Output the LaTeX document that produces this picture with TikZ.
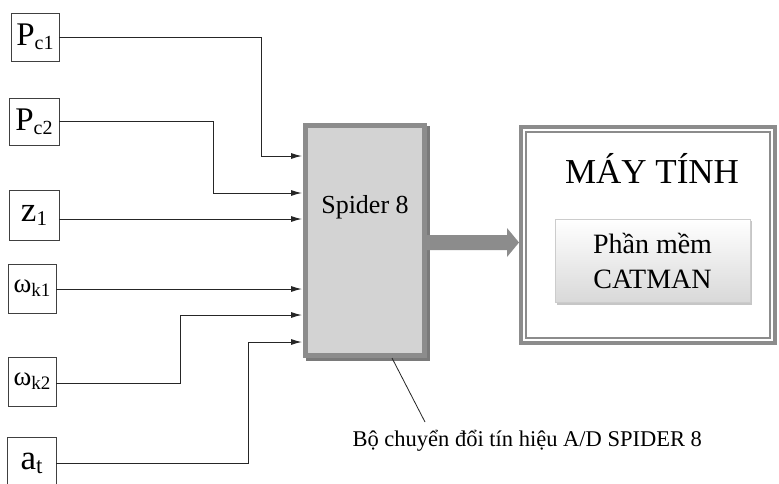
\documentclass[tikz,border=0pt]{standalone}
\usepackage{fontspec}
\setmainfont{Liberation Serif}
\usetikzlibrary{calc,arrows.meta}
\definecolor{bordergray}{HTML}{8C8C8C}
\definecolor{shadowgray}{HTML}{7A7A7A}
\definecolor{fillgray}{HTML}{D3D3D3}
\newcommand\sigtxt[4]{{\fontsize{#2}{#2}\selectfont #1}{\fontsize{#4}{#4}\selectfont\raisebox{-4pt}{#3}}}
\begin{document}
\begin{tikzpicture}[x=1pt,y=-1pt,
  inbox/.style={draw=black!75,line width=0.9pt,fill=white,inner sep=0pt},
  wire/.style={draw=black!85,line width=1pt},
  arr/.style={wire,-{Latex[length=11pt,width=6pt]}}]
\clip (0,0) rectangle (779,483);
\fill[white] (0,0) rectangle (779,483);

% input boxes
\node[inbox,minimum width=48pt,minimum height=48pt] (pc1) at (35,37) {\sigtxt{P}{33}{c1}{20}};
\node[inbox,minimum width=50pt,minimum height=47pt] (pc2) at (34,121.5) {\sigtxt{P}{33}{c2}{20}};
\node[inbox,minimum width=50pt,minimum height=50pt] (z1) at (34,215) {\sigtxt{z}{35}{1}{21}};
\node[inbox,minimum width=48pt,minimum height=49pt] (wk1) at (32,288.5) {\sigtxt{ω}{27}{k1}{19}};
\node[inbox,minimum width=48pt,minimum height=49pt] (wk2) at (32,381.5) {\sigtxt{ω}{27}{k2}{19}};
\node[inbox,minimum width=49pt,minimum height=52pt] (at) at (31.5,463) {\sigtxt{a}{35}{t}{23}};

% Spider 8
\fill[shadowgray] (306,126) rectangle (430,361);
\node[draw=bordergray,fill=fillgray,line width=5pt,minimum width=119pt,minimum height=230pt,inner sep=0pt] (spider) at (365,240.5) {};
\node[anchor=base,font=\fontsize{26}{26}\selectfont] (spl) at (365,213) {Spider 8};

% computer
\node[draw=bordergray,line width=4pt,minimum width=254pt,minimum height=216pt,fill=white,inner sep=0pt] (comp) at (648,235) {};
\draw[bordergray,line width=1.2pt] ($(comp.north west)+(7,7)$) rectangle ($(comp.south east)+(-7,-7)$);
\node[anchor=base,font=\fontsize{35}{35}\selectfont] (title) at (652,183) {MÁY TÍNH};
\fill[gray!45] (557,221) rectangle (752,305);
\node[draw=gray!40,top color=white,bottom color=gray!30,minimum width=195pt,minimum height=83pt,inner sep=0pt,align=center,font=\fontsize{28}{35}\selectfont] (sw) at (652.5,260.5) {Phần mềm\\CATMAN};

% thick arrow
\fill[bordergray] (spider.east |- 0,235) -- (507,235) -- (507,228) -- (comp.west |- 0,242.5) -- (507,257) -- (507,250) -- (spider.east |- 0,250) -- cycle;

% input coordinates
\coordinate (in1) at (302,156);
\coordinate (in2) at (302,193);
\coordinate (in3) at (302,219);
\coordinate (in4) at (302,289);
\coordinate (in5) at (302,315);
\coordinate (in6) at (302,342);
\coordinate (b1) at (261,156);
\coordinate (b2) at (213,193);
\coordinate (b5) at (180,315);
\coordinate (b6) at (248,342);

\draw[arr] (pc1.east) -| (b1) -- (in1);
\draw[arr] (pc2.east) -| (b2) -- (in2);
\draw[arr] (z1.east |- in3) -- (in3);
\draw[arr] (wk1.east |- in4) -- (in4);
\draw[arr] (wk2.east |- 0,383) -| (b5) -- (in5);
\draw[arr] (at.east) -| (b6) -- (in6);

% label
\node[anchor=base west,font=\fontsize{22.5}{22.5}\selectfont] (adlbl) at (349,446) {Bộ chuyển đổi tín hiệu A/D SPIDER 8};
\coordinate (l1) at (392,358);
\coordinate (l2) at (425,422);
\draw[wire,line width=0.8pt] (l1) -- (l2);
\end{tikzpicture}
\end{document}
